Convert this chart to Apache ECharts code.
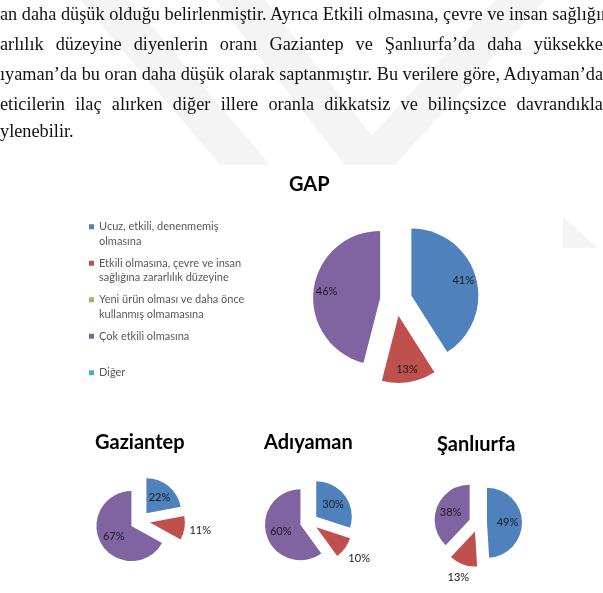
<!DOCTYPE html>
<html><head><meta charset="utf-8">
<script src="https://cdn.jsdelivr.net/npm/echarts@6/dist/echarts.min.js"></script>
<style>
html,body{margin:0;padding:0;width:603px;height:593px;overflow:hidden;background:#fff;}
#chart{position:absolute;left:0;top:0;width:603px;height:593px;}
.pl{position:absolute;left:0;height:20px;line-height:20px;white-space:nowrap;font-family:"Liberation Serif","Times New Roman",serif;font-size:18.3px;color:#111;}
.just{text-align:justify;text-align-last:justify;}
</style></head><body>
<div id="chart"></div>
<div id="para"></div>
<script>
// ---- data ----
const paragraphLines = [
  "an daha düşük olduğu belirlenmiştir. Ayrıca Etkili olmasına, çevre ve insan sağlığına",
  "arlılık düzeyine diyenlerin oranı Gaziantep ve Şanlıurfa’da daha yüksekken",
  "ıyaman’da bu oran daha düşük olarak saptanmıştır. Bu verilere göre, Adıyaman’da",
  "eticilerin ilaç alırken diğer illere oranla dikkatsiz ve bilinçsizce davrandıkları",
  "ylenebilir."
];
const categories = [
  "Ucuz, etkili, denenmemiş olmasına",
  "Etkili olmasına, çevre ve insan sağlığına zararlılık düzeyine",
  "Yeni ürün olması ve daha önce kullanmış olmamasına",
  "Çok etkili olmasına",
  "Diğer"
];
const legendLines = [
  ["Ucuz, etkili, denenmemiş", "olmasına"],
  ["Etkili olmasına, çevre ve insan", "sağlığına zararlılık düzeyine"],
  ["Yeni ürün olması ve daha önce", "kullanmış olmamasına"],
  ["Çok etkili olmasına", ""],
  ["Diğer", ""]
];
const chartTitles = ["GAP", "Gaziantep", "Adıyaman", "Şanlıurfa"];
const gapValues       = [41, 13, 0, 46, 0];
const gaziantepValues = [22, 11, 0, 67, 0];
const adiyamanValues  = [30, 10, 0, 60, 0];
const sanliurfaValues = [49, 13, 0, 38, 0];
const colors = ["#4F81BD", "#C0504D", "#9BBB59", "#8064A2", "#4BACC6"];

// ---- paragraph (page text) ----
const paraStyle = [
  {top: 4, width: 611},
  {top: 34, width: 612},
  {top: 64, width: 601},
  {top: 94, width: 614},
  {top: 121}
];
const para = document.getElementById('para');
paragraphLines.forEach((t, i) => {
  const d = document.createElement('div');
  d.className = 'pl' + (paraStyle[i].width ? ' just' : '');
  d.style.top = paraStyle[i].top + 'px';
  if (paraStyle[i].width) d.style.width = paraStyle[i].width + 'px';
  d.textContent = t;
  para.appendChild(d);
});

// ---- chart ----
const FONT = 'Lato, "Open Sans", sans-serif';
function makeData(values, labelFn) {
  return values.map((v, i) => ({
    name: categories[i], value: v, selected: true,
    itemStyle: {color: colors[i]},
    label: {show: labelFn(i, v)}
  }));
}
function mainPie(values, center, r, offset, insideFn) {
  return {
    type: 'pie', center: center, radius: [0, r], startAngle: 90, clockwise: true,
    selectedMode: 'multiple', selectedOffset: offset, avoidLabelOverlap: false,
    emphasis: {disabled: true}, animation: false,
    itemStyle: {borderWidth: 0},
    label: {position: 'inside', formatter: '{c}%', fontFamily: FONT, fontSize: 11, color: '#1a1a1a'},
    labelLine: {show: false},
    data: makeData(values, insideFn)
  };
}
function labelPie(values, center, labelR, offset, showFn) {
  return {
    type: 'pie', center: center, radius: [0, labelR * 2], startAngle: 90, clockwise: true,
    selectedMode: 'multiple', selectedOffset: offset, avoidLabelOverlap: false, silent: true,
    emphasis: {disabled: true}, animation: false, z: 5,
    itemStyle: {color: 'rgba(0,0,0,0)', borderWidth: 0},
    label: {position: 'inside', formatter: '{c}%', fontFamily: FONT, fontSize: 11, color: '#1a1a1a'},
    labelLine: {show: false},
    data: values.map((v, i) => ({name: categories[i], value: v, selected: true,
      itemStyle: {color: 'rgba(0,0,0,0)'}, label: {show: showFn(i, v)}}))
  };
}
const none = () => false;
const blueOrPurple = (i, v) => v > 0 && (i === 0 || i === 3);
const redOnly = (i, v) => v > 0 && i === 1;
const anyPos = (i, v) => v > 0;

const legendText = {};
categories.forEach((c, i) => {
  const l = legendLines[i];
  legendText[c] = '\n' + l[0] + '\n' + l[1];
});

// faint page watermark (decoration of the scanned page)
const WM = '#f4f4f4';
const watermark = [
  [[80,0],[130,0],[270,165],[220,165]],
  [[215,0],[265,0],[395,165],[345,165]],
  [[345,165],[395,165],[545,0],[495,0]],
  [[563,216],[563,248],[597,248]]
].map(pts => ({type: 'polygon', silent: true, z: -10, shape: {points: pts}, style: {fill: WM}}));

const chart = echarts.init(document.getElementById('chart'), null, {renderer: 'canvas'});
chart.setOption({
  backgroundColor: 'transparent',
  animation: false,
  graphic: watermark,
  title: [
    {text: chartTitles[0], left: 284, top: 170, textStyle: {fontFamily: FONT, fontWeight: 'bold', fontSize: 20, color: '#000'}},
    {text: chartTitles[1], left: 90, top: 428, textStyle: {fontFamily: FONT, fontWeight: 'bold', fontSize: 20, color: '#000'}},
    {text: chartTitles[2], left: 259, top: 428, textStyle: {fontFamily: FONT, fontWeight: 'bold', fontSize: 20, color: '#000'}},
    {text: chartTitles[3], left: 432, top: 430, textStyle: {fontFamily: FONT, fontWeight: 'bold', fontSize: 20, color: '#000'}}
  ],
  legend: {
    orient: 'vertical', left: 84, top: 200, itemWidth: 5, itemHeight: 5, itemGap: -7,
    icon: 'rect', selectedMode: false, data: categories,
    formatter: name => legendText[name],
    textStyle: {fontFamily: FONT, fontSize: 11, color: '#595959', lineHeight: 14.5}
  },
  series: [
    mainPie(gapValues, [396, 300], 67, 16, none),
    mainPie(gaziantepValues, [140, 521], 35, 10, blueOrPurple),
    mainPie(adiyamanValues, [309, 522], 35.5, 9, blueOrPurple),
    mainPie(sanliurfaValues, [478, 523], 35, 9, blueOrPurple),
    labelPie(gapValues, [396, 300], 51, 16, anyPos),
    labelPie(gaziantepValues, [140, 521], 48, 10, redOnly),
    labelPie(adiyamanValues, [309, 522], 50, 9, redOnly),
    labelPie(sanliurfaValues, [478, 523], 46, 9, redOnly)
  ]
});
</script>
</body></html>
